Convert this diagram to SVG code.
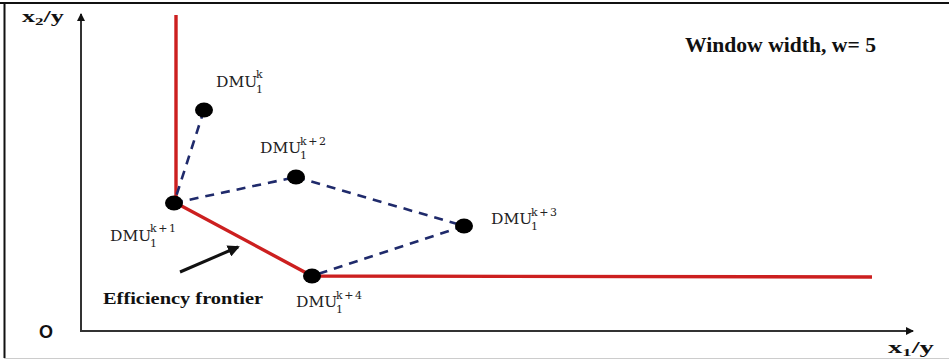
<svg xmlns="http://www.w3.org/2000/svg" width="949" height="361" viewBox="0 0 949 361">
<style>
.dmu{font-family:'DejaVu Serif',serif;font-size:15.5px;fill:#222}
.sup{font-size:11px;letter-spacing:1.5px}
.sub{font-size:11px}
.bt{font-family:'Liberation Serif','Times New Roman',serif;font-weight:bold;fill:#111}
.red{stroke:#cc1f1f;stroke-width:3.4;fill:none}
.dash{stroke:#1f2a6b;stroke-width:2.6;stroke-dasharray:9,7;fill:none}
.dot{fill:#000}
</style>
<defs>
<marker id="ah" markerWidth="8" markerHeight="8" refX="7" refY="4" orient="auto" markerUnits="userSpaceOnUse"><path d="M0,0 L8,4 L0,8 Z" fill="#111"/></marker>
<marker id="ab" markerWidth="12" markerHeight="12" refX="10" refY="6" orient="auto" markerUnits="userSpaceOnUse"><path d="M0,0 L12,6 L0,12 Z" fill="#111"/></marker>
</defs>
<rect x="0" y="0" width="949" height="361" fill="#fff"/>
<g id="frame">
<line x1="0" y1="3" x2="949" y2="3" stroke="#111" stroke-width="2"/>
<line x1="4.5" y1="3" x2="4.5" y2="358" stroke="#111" stroke-width="2"/>
<line x1="4" y1="358.5" x2="949" y2="358.5" stroke="#ccc" stroke-width="1"/>
</g>
<g id="axes">
<line x1="81" y1="331" x2="81" y2="14" stroke="#333" stroke-width="2" marker-end="url(#ah)"/>
<line x1="80" y1="331" x2="913" y2="331" stroke="#333" stroke-width="2" marker-end="url(#ah)"/>
<text class="bt" x="22" y="22" font-size="17" textLength="42" lengthAdjust="spacingAndGlyphs">x<tspan font-size="11" dy="3">2</tspan><tspan dy="-3">/y</tspan></text>
<text x="39" y="338" font-family="'Liberation Sans',Arial,sans-serif" font-weight="bold" font-size="18" fill="#111">O</text>
<text class="bt" x="888" y="353" font-size="17" textLength="46" lengthAdjust="spacingAndGlyphs">x<tspan font-size="11" dy="3">1</tspan><tspan dy="-3">/y</tspan></text>
</g>
<g id="connectors">
<polyline class="red" points="176,15 176,203 312,276 872,277"/>
<line class="dash" x1="204" y1="110" x2="174" y2="203"/>
<line class="dash" x1="174" y1="203" x2="296" y2="177"/>
<line class="dash" x1="296" y1="177" x2="464" y2="226"/>
<line class="dash" x1="464" y1="226" x2="312" y2="276"/>
<line x1="180" y1="272" x2="238" y2="247" stroke="#111" stroke-width="3" marker-end="url(#ab)"/>
</g>
<g id="dmu-k">
<ellipse class="dot" cx="204" cy="110" rx="9" ry="7.5"/>
<text class="dmu" x="216" y="87">DMU<tspan class="sup" x="256" y="78">k</tspan><tspan class="sub" x="256" y="93">1</tspan></text>
</g>
<g id="dmu-k1">
<ellipse class="dot" cx="174" cy="203" rx="9" ry="7.5"/>
<text class="dmu" x="110" y="241">DMU<tspan class="sup" x="150" y="232">k+1</tspan><tspan class="sub" x="150" y="247">1</tspan></text>
</g>
<g id="dmu-k2">
<ellipse class="dot" cx="296" cy="177" rx="9" ry="7.5"/>
<text class="dmu" x="260" y="153">DMU<tspan class="sup" x="300" y="145">k+2</tspan><tspan class="sub" x="300" y="159">1</tspan></text>
</g>
<g id="dmu-k3">
<ellipse class="dot" cx="464" cy="226" rx="9" ry="7.5"/>
<text class="dmu" x="491" y="224">DMU<tspan class="sup" x="531" y="216">k+3</tspan><tspan class="sub" x="531" y="230">1</tspan></text>
</g>
<g id="dmu-k4">
<ellipse class="dot" cx="312" cy="276" rx="9" ry="7.5"/>
<text class="dmu" x="296" y="307">DMU<tspan class="sup" x="336" y="299">k+4</tspan><tspan class="sub" x="336" y="313">1</tspan></text>
</g>
<g id="labels">
<text class="bt" x="103" y="304" font-size="17" textLength="160" lengthAdjust="spacingAndGlyphs">Efficiency frontier</text>
<text class="bt" x="685" y="52" font-size="21" textLength="191" lengthAdjust="spacingAndGlyphs">Window width, w= 5</text>
</g>
</svg>
